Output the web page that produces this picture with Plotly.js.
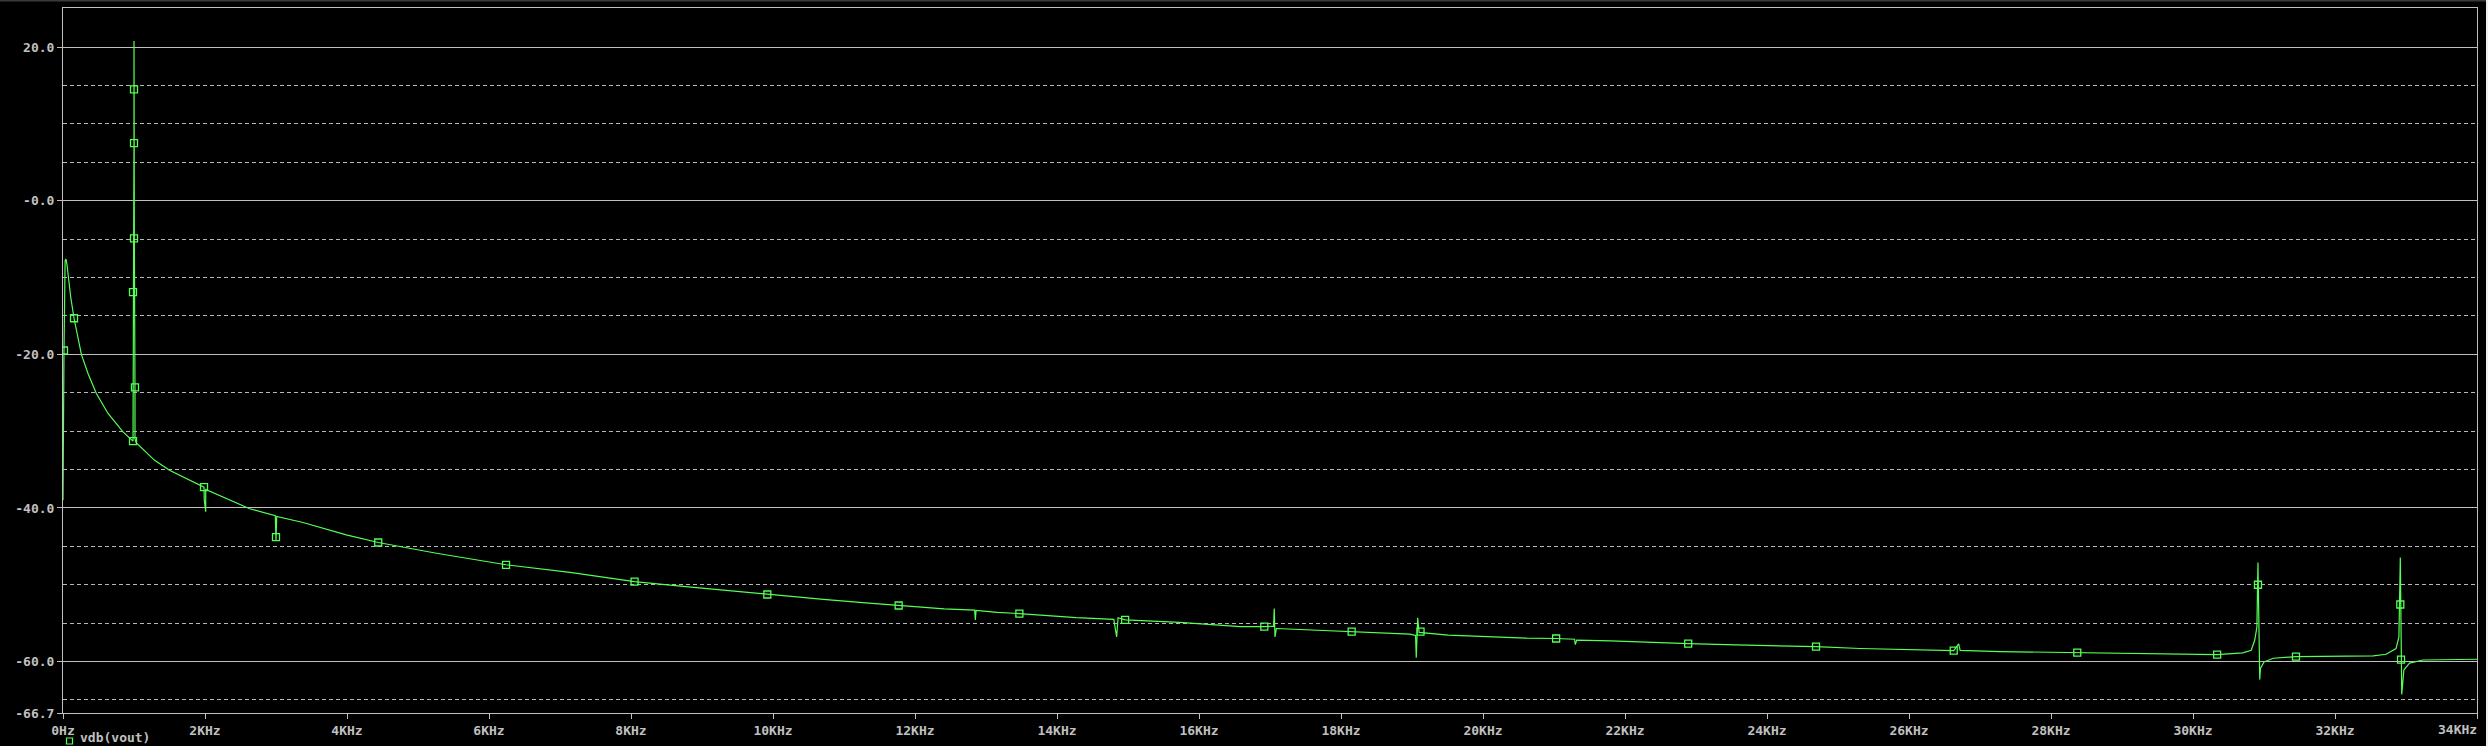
<!DOCTYPE html>
<html>
<head>
<meta charset="utf-8">
<script src="https://cdn.plot.ly/plotly-3.0.1.min.js"></script>
<style>
  html, body { margin: 0; padding: 0; background: #000; }
  #chart { width: 2488px; height: 746px; }
</style>
</head>
<body>
<div id="chart"></div>
<script>
// Frequency (kHz) and vdb(vout) (dB) of the traced curve
const freqKHz = [
  0, 0.004, 0.014, 0.030, 0.042, 0.056, 0.070, 0.080, 0.108, 0.155, 0.211, 0.259, 0.352, 0.470, 0.634, 0.845,
  0.986, 0.986, 0.995, 1.000, 1.000, 1.005, 1.014, 1.014, 1.030,
  1.290, 1.500, 1.986, 1.990, 2.010, 2.010, 2.630, 2.990, 3.000, 3.010, 3.380, 3.990, 4.440, 5.260, 6.240,
  7.140, 7.600, 8.050, 8.730, 9.310, 9.920, 10.710, 11.350, 11.770, 12.410, 12.840, 12.850, 12.860, 13.160,
  13.470, 14.270, 14.800, 14.840, 14.860, 14.960, 15.730, 16.010, 16.580, 16.920, 17.050, 17.060, 17.070,
  17.090, 17.710, 18.150, 18.650, 18.970, 19.050, 19.060, 19.080, 19.100, 19.510, 20.000, 20.620, 21.030,
  21.290, 21.300, 21.320, 21.800, 22.320, 22.890, 23.560, 24.460, 24.690, 25.310, 26.530, 26.630, 26.700,
  26.720, 27.280, 28.370, 29.740, 30.340, 30.700, 30.820, 30.870, 30.900, 30.915, 30.940, 30.950, 31.000,
  31.130, 31.310, 31.450, 32.540, 32.720, 32.860, 32.900, 32.920, 32.940, 32.970, 33.050, 33.240, 34.000
];
const vdbOut = [
  -39.0, -25.0, -19.5, -7.8, -7.6, -8.3, -9.4, -10.3, -12.5, -15.3, -18.1, -20.0, -22.5, -25.1, -27.7, -30.1,
  -31.3, -11.9, -4.9, 7.5, 20.8, -4.9, -24.3, -31.0, -31.5,
  -33.8, -35.1, -37.3, -39.0, -40.5, -37.6, -40.1, -41.0, -44.2, -41.1, -41.9, -43.5, -44.5, -45.9, -47.4,
  -48.4, -49.0, -49.6, -50.2, -50.7, -51.27, -51.9, -52.4, -52.7, -53.15, -53.3, -54.6, -53.35, -53.6,
  -53.75, -54.27, -54.5, -56.8, -54.3, -54.57, -54.9, -55.05, -55.44, -55.44, -55.4, -53.1, -56.8,
  -55.7, -55.96, -56.1, -56.27, -56.44, -56.6, -59.5, -54.3, -56.2, -56.57, -56.74, -56.96, -57.0,
  -57.1, -57.8, -57.2, -57.3, -57.5, -57.66, -57.84, -58.0, -58.05, -58.3, -58.53, -58.57, -57.7,
  -58.55, -58.7, -58.83, -58.95, -59.1, -58.88, -58.53, -57.2, -55.5, -47.1, -62.35, -60.9, -60.05,
  -59.57, -59.4, -59.35, -59.27, -59.05, -58.3, -56.8, -46.45, -64.3, -61.1, -60.2, -59.8, -59.7
];

// Symbol markers drawn on the trace
const markerKHz = [
  0.014, 0.155, 0.986, 0.986, 1.000, 1.000, 1.000, 1.014, 1.986, 3.000, 4.440, 6.240, 8.050, 9.920,
  11.770, 13.470, 14.960, 16.920, 18.150, 19.120, 21.030, 22.890, 24.690, 26.630, 28.370, 30.340,
  30.915, 31.450, 32.920, 32.930
];
const markerDb = [
  -19.5, -15.3, -31.3, -11.9, -4.9, 7.5, 14.5, -24.3, -37.3, -43.8, -44.5, -47.4, -49.6, -51.27,
  -52.7, -53.75, -54.57, -55.44, -56.1, -56.1, -57.0, -57.66, -58.05, -58.57, -58.83, -59.1,
  -50.0, -59.35, -52.57, -59.74
];

const xTickVals = [0, 2, 4, 6, 8, 10, 12, 14, 16, 18, 20, 22, 24, 26, 28, 30, 32, 34];
const xTickText = ['0Hz', '2KHz', '4KHz', '6KHz', '8KHz', '10KHz', '12KHz', '14KHz', '16KHz', '18KHz',
                   '20KHz', '22KHz', '24KHz', '26KHz', '28KHz', '30KHz', '32KHz', '34KHz'];
const yTickVals = [-66.7, -60, -40, -20, 0, 20];
const yTickText = ['-66.7', '-60.0', '-40.0', '-20.0', '-0.0', '20.0'];
const yMinorVals = [-65, -55, -50, -45, -35, -30, -25, -15, -10, -5, 5, 10, 15];
const legendLabel = 'vdb(vout)';

const GREEN = '#55ff55';
const GRAY = '#c0c0c0';
const FONT = { family: 'DejaVu Sans Mono, Liberation Mono, monospace', size: 13, color: GRAY, weight: 'bold' };

const L = 63, T = 8, W = 2414, H = 705;
const px2x = p => (p - L) / W;
const py2y = p => (T + H - p) / H;

// last tick label is drawn right-aligned at the plot edge (as in the reference)
const lastIdx = xTickText.length - 1;
const axisTickText = xTickText.map((t, i) => (i === lastIdx ? '' : t));

const traces = [
  {
    x: freqKHz, y: vdbOut, type: 'scatter', mode: 'lines',
    line: { color: GREEN, width: 1.2 }, hoverinfo: 'skip', showlegend: false
  },
  {
    x: markerKHz, y: markerDb, type: 'scatter', mode: 'markers',
    marker: { symbol: 'square-open', size: 7, color: GREEN, line: { color: GREEN, width: 1.3 } },
    hoverinfo: 'skip', showlegend: false
  }
];

const layout = {
  width: 2488, height: 746,
  margin: { l: L, r: 2488 - L - W, t: T, b: 746 - T - H, pad: 0 },
  paper_bgcolor: '#000', plot_bgcolor: '#000',
  font: FONT,
  showlegend: false,
  xaxis: {
    range: [0, 34], tickmode: 'array', tickvals: xTickVals, ticktext: axisTickText,
    showgrid: false, zeroline: false,
    showline: true, mirror: true, linecolor: GRAY, linewidth: 1,
    ticks: 'outside', ticklen: 5, tickwidth: 1, tickcolor: GRAY,
    tickfont: FONT, fixedrange: true
  },
  yaxis: {
    range: [-66.7, 25.1], tickmode: 'array', tickvals: yTickVals, ticktext: yTickText,
    showgrid: true, gridcolor: GRAY, gridwidth: 1, zeroline: false,
    showline: true, mirror: true, linecolor: GRAY, linewidth: 1,
    ticks: 'outside', ticklen: 5, tickwidth: 1, tickcolor: GRAY,
    tickfont: FONT, fixedrange: true,
    minor: { tickmode: 'array', tickvals: yMinorVals, showgrid: true, gridcolor: '#b8b8b8',
             gridwidth: 1, griddash: '4px,3px', ticks: '' }
  },
  shapes: [
    { type: 'rect', xref: 'paper', yref: 'paper', x0: px2x(66.5), x1: px2x(72.5), y0: py2y(744), y1: py2y(738),
      line: { color: GREEN, width: 1.2 }, fillcolor: 'rgba(0,0,0,0)' },
    { type: 'rect', xref: 'paper', yref: 'paper', x0: px2x(2486), x1: px2x(2492), y0: py2y(750), y1: py2y(-4),
      line: { width: 0 }, fillcolor: '#f0f0f0' },
    { type: 'rect', xref: 'paper', yref: 'paper', x0: px2x(-4), x1: px2x(2486), y0: py2y(1.5), y1: py2y(-4),
      line: { width: 0 }, fillcolor: '#3a3a3a' }
  ],
  annotations: [
    { xref: 'paper', yref: 'paper', x: px2x(79), y: py2y(746), xanchor: 'left', yanchor: 'bottom',
      text: legendLabel, showarrow: false, font: FONT, borderpad: 0 },
    { xref: 'paper', yref: 'paper', x: px2x(2478), y: py2y(729), xanchor: 'right', yanchor: 'middle',
      text: xTickText[lastIdx], showarrow: false, font: FONT, borderpad: 0 }
  ]
};

Plotly.newPlot('chart', traces, layout, { displayModeBar: false, staticPlot: true });
</script>
</body>
</html>
